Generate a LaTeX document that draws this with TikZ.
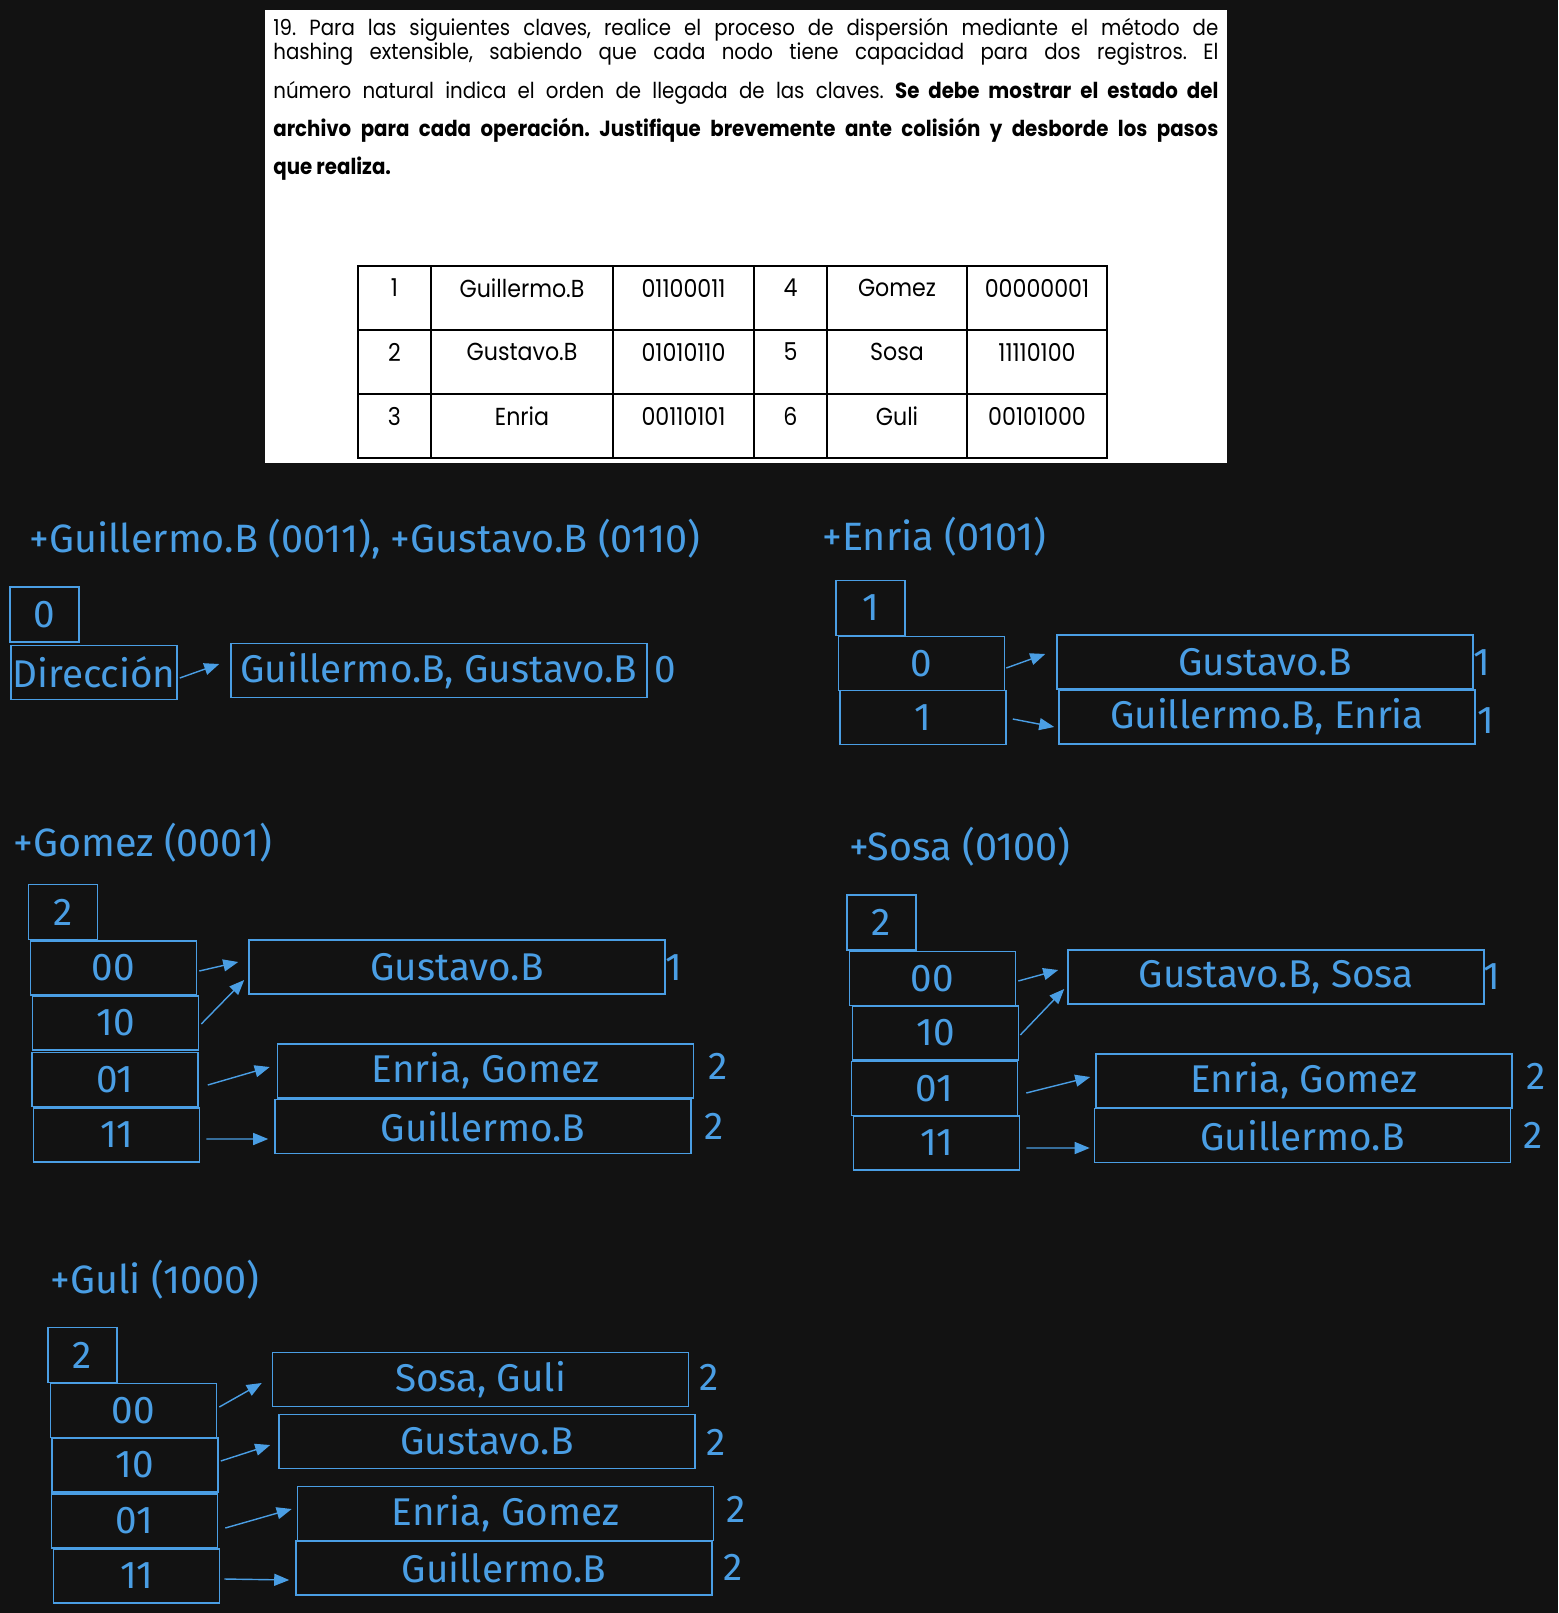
\documentclass[tikz,border=0pt]{standalone}
\usepackage{fontspec}
\usetikzlibrary{arrows.meta,calc}
\newfontfamily\enunciado[FakeStretch=0.9]{Poppins}
\newfontfamily\mano{Fira Sans}
\definecolor{fondo}{HTML}{121212}
\definecolor{azul}{RGB}{74,158,228}
\frenchspacing

\begin{document}
\begin{tikzpicture}[x=0.2mm,y=-0.2mm,
		% Estilos
		linea/.style={font=\enunciado\fontsize{12.5}{14}\selectfont, text=black, inner sep=0pt, anchor=base west}, % renglones del enunciado
		celda/.style={font=\enunciado\fontsize{14}{15}\selectfont, text=black, inner sep=0pt}, % texto de la tabla
		rejilla/.style={draw=black, line width=1.1pt}, % lineas de la tabla
		caja/.style={draw=azul, line width=0.9pt, text=azul, font=\mano\fontsize{22}{26}\selectfont, minimum height=10.8mm, inner sep=0pt},
		prof/.style={caja, minimum width=13.8mm, minimum height=11mm}, % profundidad global
		entrada/.style={caja, minimum width=33.2mm}, % celda del directorio
		cubeta/.style={caja, minimum width=83.2mm}, % nodo con registros
		flecha/.style={draw=azul, line width=0.8pt, -{Triangle[length=3mm,width=2.4mm]}},
		titulo/.style={text=azul, font=\mano\fontsize{22.5}{26}\selectfont, anchor=west, inner sep=0pt},
		etiq/.style={text=azul, font=\mano\fontsize{22}{26}\selectfont, inner sep=0pt} % profundidad local
		]
	% Fondo
	\fill[fondo] (0,0) rectangle (1558,1613);
	\fill[white] (265,10) rectangle (1227,463);

	% Enunciado
	\node[linea] (l1) at (273,36) {\makebox[189mm][s]{19. Para las siguientes claves, realice el proceso de dispersión mediante el método de}};
	\node[linea] (l2) at (273,60) {\makebox[189mm][s]{hashing extensible, sabiendo que cada nodo tiene capacidad para dos registros. El}};
	\node[linea] (l3) at (273,99) {\makebox[189mm][s]{número natural indica el orden de llegada de las claves. \textbf{Se debe mostrar el estado del}}};
	\node[linea] (l4) at (273,137) {\makebox[189mm][s]{\bfseries archivo para cada operación. Justifique brevemente ante colisión y desborde los pasos}};
	\node[linea] (l5) at (273,175) {\bfseries que realiza.};

	% Tabla de claves
	\draw[rejilla] (358,266) rectangle (1107,458);
	\foreach \x in {431,613,754,827,967} \draw[rejilla] (\x,266) -- (\x,458);
	\foreach \y in {330,394} \draw[rejilla] (358,\y) -- (1107,\y);
	\foreach \n/\nom/\cod/\m/\nomb/\codb [count=\i] in {1/Guillermo.B/01100011/4/Gomez/00000001,
			2/Gustavo.B/01010110/5/Sosa/11110100, 3/Enria/00110101/6/Guli/00101000}{
		\node[celda] (num\i) at (394.5,224+64*\i) {\n};
		\node[celda] (nom\i) at (522,224+64*\i) {\nom};
		\node[celda] (cod\i) at (683.5,224+64*\i) {\cod};
		\node[celda] (numb\i) at (790.5,224+64*\i) {\m};
		\node[celda] (nomb\i) at (897,224+64*\i) {\nomb};
		\node[celda] (codb\i) at (1037,224+64*\i) {\codb};
	}

	% Paso 1
	\node[titulo] (t1) at (29,539) {+Guillermo.B (0011), +Gustavo.B (0110)};
	\node[prof] (g1) at (44.5,614.5) {0};
	\node[entrada] (dir1) at (94,672.5) {Dirección};
	\node[cubeta] (b1) at (439,670.5) {Guillermo.B, Gustavo.B};
	\node[etiq] (e1) at (665,670) {0};
	\draw[flecha] ($(dir1.east)+(2,5.5)$) -- ($(b1.west)+(-11,-6.5)$);

	% Paso 2
	\node[titulo] (t2) at (822,537) {+Enria (0101)};
	\node[prof] (g2) at (870.5,608) {1};
	\node[entrada] (d2a) at (921.5,663.5) {0};
	\node[entrada] (d2b) at (923,717.5) {1};
	\node[cubeta] (b2a) at (1265,662) {Gustavo.B};
	\node[cubeta] (b2b) at (1267,717) {Guillermo.B, Enria};
	\node[etiq] (e2a) at (1482,663) {1};
	\node[etiq] (e2b) at (1486,721) {1};
	\draw[flecha] ($(d2a.east)+(1,4.5)$) -- ($(b2a.west)+(-11,-8)$);
	\draw[flecha] ($(d2b.east)+(6,1.5)$) -- ($(b2b.west)+(-4,10)$);

	% Paso 3
	\node[titulo] (t3) at (13,843) {+Gomez (0001)};
	\node[prof] (g3) at (63,912) {2};
	\node[entrada] (d3a) at (113.5,968) {00};
	\node[entrada] (d3b) at (115.5,1023) {10};
	\node[entrada] (d3c) at (115,1079.5) {01};
	\node[entrada] (d3d) at (116.5,1135) {11};
	\node[cubeta] (b3a) at (457,967) {Gustavo.B};
	\node[cubeta] (b3b) at (485.5,1071) {Enria, Gomez};
	\node[cubeta] (b3c) at (483,1126.5) {Guillermo.B};
	\node[etiq] (e3a) at (674,968) {1};
	\node[etiq] (e3b) at (718,1066) {2};
	\node[etiq] (e3c) at (714,1126) {2};
	\draw[flecha] ($(d3a.east)+(2,3)$) -- ($(b3a.west)+(-10,-5)$);
	\draw[flecha] ($(d3b.east)+(2,1)$) -- ($(b3a.west)+(-4,13)$);
	\draw[flecha] ($(d3c.east)+(9,5.5)$) -- ($(b3b.west)+(-7,-4)$);
	\draw[flecha] ($(d3d.east)+(6,4)$) -- ($(b3c.west)+(-6,12.5)$);

	% Paso 4
	\node[titulo] (t4) at (849,847) {+Sosa (0100)};
	\node[prof] (g4) at (881.5,922.5) {2};
	\node[entrada] (d4a) at (932.5,978.5) {00};
	\node[entrada] (d4b) at (935.5,1033) {10};
	\node[entrada] (d4c) at (934.5,1088.5) {01};
	\node[entrada] (d4d) at (936.5,1143) {11};
	\node[cubeta] (b4a) at (1276,977) {Gustavo.B, Sosa};
	\node[cubeta] (b4b) at (1304,1081) {Enria, Gomez};
	\node[cubeta] (b4c) at (1302.5,1135.5) {Guillermo.B};
	\node[etiq] (e4a) at (1492,977) {1};
	\node[etiq] (e4b) at (1536,1076) {2};
	\node[etiq] (e4c) at (1533,1135) {2};
	\draw[flecha] ($(d4a.east)+(2,2.5)$) -- ($(b4a.west)+(-9,-7)$);
	\draw[flecha] ($(d4b.east)+(1,2)$) -- ($(b4a.west)+(-3,12)$);
	\draw[flecha] ($(d4c.east)+(8,4.5)$) -- ($(b4b.west)+(-5,-4)$);
	\draw[flecha] ($(d4d.east)+(6,5)$) -- ($(b4c.west)+(-4,12.5)$);

	% Paso 5
	\node[titulo] (t5) at (50,1280) {+Guli (1000)};
	\node[prof] (g5) at (82.5,1355) {2};
	\node[entrada] (d5a) at (133.5,1410.5) {00};
	\node[entrada] (d5b) at (135,1465) {10};
	\node[entrada] (d5c) at (134.5,1521) {01};
	\node[entrada] (d5d) at (136.5,1576) {11};
	\node[cubeta] (b5a) at (480.5,1379.5) {Sosa, Guli};
	\node[cubeta] (b5b) at (487,1441.5) {Gustavo.B};
	\node[cubeta] (b5c) at (505.5,1513.5) {Enria, Gomez};
	\node[cubeta] (b5d) at (504,1568) {Guillermo.B};
	\node[etiq] (e5a) at (709,1377) {2};
	\node[etiq] (e5b) at (716,1442) {2};
	\node[etiq] (e5c) at (736,1509) {2};
	\node[etiq] (e5d) at (733,1567) {2};
	\draw[flecha] ($(d5a.east)+(2,-3.5)$) -- ($(b5a.west)+(-10,3.5)$);
	\draw[flecha] ($(d5b.east)+(2,-4)$) -- ($(b5b.west)+(-8,3.5)$);
	\draw[flecha] ($(d5c.east)+(7,7)$) -- ($(b5c.west)+(-5,-4.5)$);
	\draw[flecha] ($(d5d.east)+(4,3)$) -- ($(b5d.west)+(-6,12)$);
\end{tikzpicture}
\end{document}
